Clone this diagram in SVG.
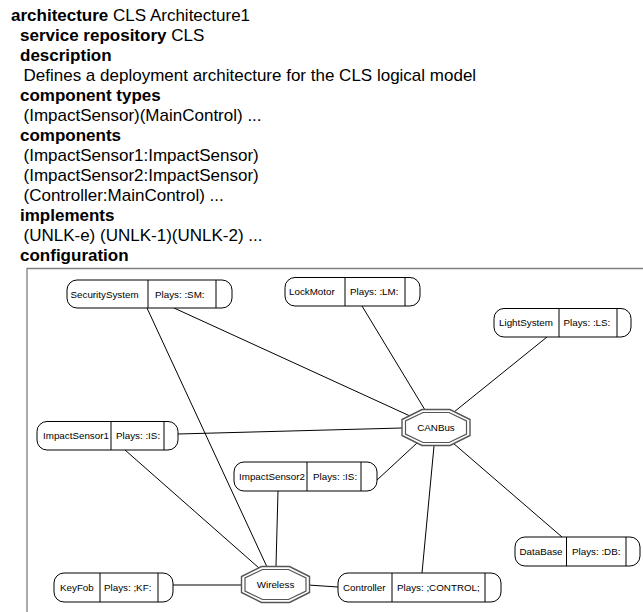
<svg xmlns="http://www.w3.org/2000/svg" width="643" height="612" viewBox="0 0 643 612">
  <style>
    .hdr { font-family: "Liberation Sans", Arial, sans-serif; font-size: 17px; fill: #000; }
    .kw { font-weight: bold; }
    .box { fill: #fff; stroke: #000; stroke-width: 1; }
    .div { stroke: #000; stroke-width: 1; }
    .lbl { font-family: "Liberation Sans", Arial, sans-serif; font-size: 9.8px; fill: #000; }
    .oct { fill: #fff; stroke: #555; stroke-width: 1.4; }
    .oct-in { fill: none; stroke: #555; stroke-width: 1.2; }
    .edge { stroke: #000; stroke-width: 1; fill: none; }
    .frame { stroke: #808080; stroke-width: 1.3; fill: none; }
  </style>
  <defs>
    <g id="octagon">
      <polygon class="oct" points="-14,-18 14,-18 34,-8 34,8 14,18 -14,18 -34,8 -34,-8"/>
      <polygon class="oct-in" points="-13,-15 13,-15 30.5,-6.5 30.5,6.5 13,15 -13,15 -30.5,6.5 -30.5,-6.5"/>
    </g>
  </defs>

  <rect width="643" height="612" fill="#fff"/>

  <!-- textual architecture description -->
  <g id="description">
    <text class="hdr" x="11" y="21"><tspan class="kw">architecture</tspan> CLS Architecture1</text>
    <text class="hdr" x="20" y="41"><tspan class="kw">service repository</tspan> CLS</text>
    <text class="hdr kw" x="20" y="61">description</text>
    <text class="hdr" x="23.5" y="81">Defines a deployment architecture for the CLS logical model</text>
    <text class="hdr kw" x="20" y="101">component types</text>
    <text class="hdr" x="23.5" y="121">(ImpactSensor)(MainControl) ...</text>
    <text class="hdr kw" x="20" y="141">components</text>
    <text class="hdr" x="23.5" y="161">(ImpactSensor1:ImpactSensor)</text>
    <text class="hdr" x="23.5" y="181">(ImpactSensor2:ImpactSensor)</text>
    <text class="hdr" x="23.5" y="201">(Controller:MainControl) ...</text>
    <text class="hdr kw" x="20" y="221">implements</text>
    <text class="hdr" x="23.5" y="241">(UNLK-e) (UNLK-1)(UNLK-2) ...</text>
    <text class="hdr kw" x="20" y="261">configuration</text>
  </g>

  <!-- configuration frame -->
  <path class="frame" d="M27,612 V268.5 H643"/>

  <!-- connectors -->
  <g id="connectors">
    <line class="edge" x1="147" y1="308" x2="267" y2="567"/>
    <line class="edge" x1="174" y1="308" x2="410" y2="416"/>
    <line class="edge" x1="362" y1="306" x2="425" y2="410"/>
    <line class="edge" x1="547" y1="337" x2="454" y2="412"/>
    <line class="edge" x1="178" y1="434" x2="402" y2="428"/>
    <line class="edge" x1="125" y1="450" x2="259" y2="568"/>
    <line class="edge" x1="377" y1="480" x2="417" y2="443"/>
    <line class="edge" x1="278" y1="491" x2="276" y2="566"/>
    <line class="edge" x1="434" y1="446" x2="422" y2="573"/>
    <line class="edge" x1="453" y1="443" x2="562" y2="537"/>
    <line class="edge" x1="173" y1="585" x2="243" y2="585"/>
    <line class="edge" x1="308" y1="585" x2="338" y2="587"/>
  </g>

  <!-- component nodes -->
  <g id="SecuritySystem">
    <rect class="box" x="67" y="280" width="165" height="28" rx="10"/>
    <line class="div" x1="148" y1="280" x2="148" y2="308"/>
    <line class="div" x1="216" y1="280" x2="216" y2="308"/>
    <text class="lbl" x="70.5" y="297.5">SecuritySystem</text>
    <text class="lbl" x="155" y="297.5">Plays: :SM:</text>
  </g>
  <g id="LockMotor">
    <rect class="box" x="285" y="277.5" width="135" height="28.5" rx="10"/>
    <line class="div" x1="345" y1="277.5" x2="345" y2="306"/>
    <line class="div" x1="405" y1="277.5" x2="405" y2="306"/>
    <text class="lbl" x="289" y="295">LockMotor</text>
    <text class="lbl" x="350" y="295">Plays: :LM:</text>
  </g>
  <g id="LightSystem">
    <rect class="box" x="494" y="308.5" width="137" height="28.5" rx="10"/>
    <line class="div" x1="559" y1="308.5" x2="559" y2="337"/>
    <line class="div" x1="617" y1="308.5" x2="617" y2="337"/>
    <text class="lbl" x="499" y="326">LightSystem</text>
    <text class="lbl" x="563.5" y="326">Plays: :LS:</text>
  </g>
  <g id="ImpactSensor1">
    <rect class="box" x="37" y="421.5" width="141" height="28.5" rx="10"/>
    <line class="div" x1="111" y1="421.5" x2="111" y2="450"/>
    <line class="div" x1="164" y1="421.5" x2="164" y2="450"/>
    <text class="lbl" x="43" y="439">ImpactSensor1</text>
    <text class="lbl" x="116" y="439">Plays: :IS:</text>
  </g>
  <g id="ImpactSensor2">
    <rect class="box" x="234" y="462" width="143" height="29" rx="10"/>
    <line class="div" x1="307" y1="462" x2="307" y2="491"/>
    <line class="div" x1="361" y1="462" x2="361" y2="491"/>
    <text class="lbl" x="239" y="480">ImpactSensor2</text>
    <text class="lbl" x="313" y="480">Plays: :IS:</text>
  </g>
  <g id="DataBase">
    <rect class="box" x="515" y="537" width="125" height="29" rx="10"/>
    <line class="div" x1="566.5" y1="537" x2="566.5" y2="566"/>
    <line class="div" x1="626" y1="537" x2="626" y2="566"/>
    <text class="lbl" x="519.5" y="555">DataBase</text>
    <text class="lbl" x="572" y="555">Plays: :DB:</text>
  </g>
  <g id="KeyFob">
    <rect class="box" x="54" y="573" width="119" height="29" rx="10"/>
    <line class="div" x1="100" y1="573" x2="100" y2="602"/>
    <line class="div" x1="158" y1="573" x2="158" y2="602"/>
    <text class="lbl" x="60" y="591">KeyFob</text>
    <text class="lbl" x="104" y="591">Plays: ;KF:</text>
  </g>
  <g id="Controller">
    <rect class="box" x="338" y="573" width="163" height="29" rx="10"/>
    <line class="div" x1="392" y1="573" x2="392" y2="602"/>
    <line class="div" x1="485" y1="573" x2="485" y2="602"/>
    <text class="lbl" x="343" y="591">Controller</text>
    <text class="lbl" x="397" y="591">Plays: ;CONTROL;</text>
  </g>

  <!-- connector nodes -->
  <g id="CANBus">
    <use href="#octagon" x="436" y="427.5"/>
    <text class="lbl" x="436" y="431" text-anchor="middle">CANBus</text>
  </g>
  <g id="Wireless">
    <use href="#octagon" x="275.5" y="584.5"/>
    <text class="lbl" x="275.5" y="588" text-anchor="middle">Wireless</text>
  </g>
</svg>
